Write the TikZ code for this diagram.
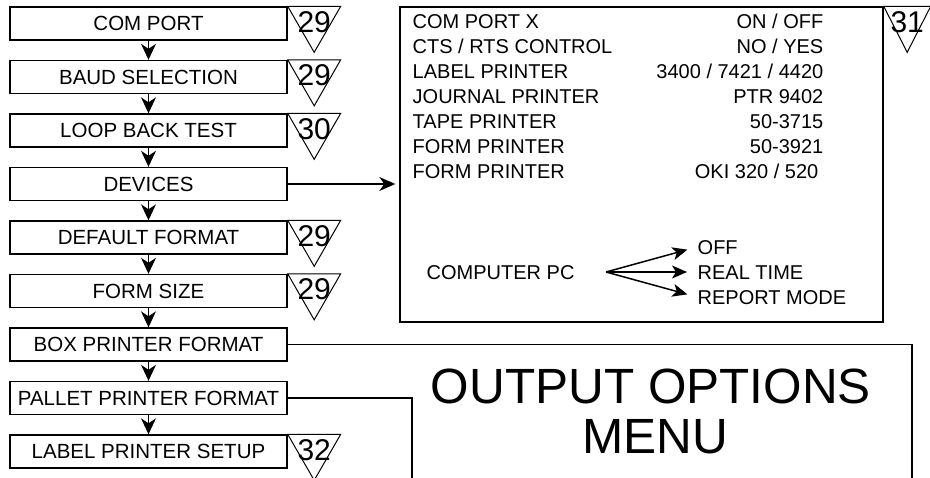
\documentclass[tikz,border=0pt]{standalone}
\usepackage{fontspec}
\setmainfont{Liberation Sans}
\usetikzlibrary{arrows.meta,calc}
\newcommand\reftri[4]{% #1 corner, #2 width, #3 number, #4 name
  \draw[tri] (#1) -- ++(#2,0) -- ++(-#2/2,46) -- cycle;
  \node[num] (#4) at ($(#1)+(#2/2,15)$) {#3};}
\begin{document}
\begin{tikzpicture}[x=1pt,y=-1pt,line width=1.4pt,
  menubox/.style={draw,minimum width=277pt,minimum height=33pt,inner sep=0pt,
    font=\fontsize{20.5}{24}\selectfont,text height=14.7pt,text depth=0pt},
  txt/.style={inner sep=0pt,font=\fontsize{20}{24}\selectfont,text height=14.3pt,text depth=0pt},
  num/.style={inner sep=0pt,font=\fontsize{30}{32}\selectfont,text height=21.5pt,text depth=0pt},
  big/.style={inner sep=0pt,font=\fontsize{49.5}{50}\selectfont},
  tri/.style={line width=1pt},
  downarr/.style={-{Stealth[length=16pt,width=15pt,inset=5pt]}},
  sidearr/.style={-{Stealth[length=16pt,width=14pt,inset=5pt]},shorten >=4pt},
  smallarr/.style={line width=1.5pt,-{Stealth[length=15pt,width=13pt,inset=4pt]},shorten >=10pt},
  bigbox/.style={draw,minimum width=483pt,minimum height=315pt,inner sep=0pt}]
\useasboundingbox (0,0) rectangle (930,478);

% left column
\node[menubox] (b1) at (148.5,23.5) {COM PORT};
\node[menubox] (b2) at (148.5,77) {BAUD SELECTION};
\node[menubox] (b3) at (148.5,130.5) {LOOP BACK TEST};
\node[menubox] (b4) at (148.5,184) {DEVICES};
\node[menubox] (b5) at (148.5,237.5) {DEFAULT FORMAT};
\node[menubox] (b6) at (148.5,291) {FORM SIZE};
\node[menubox] (b7) at (148.5,344.5) {BOX PRINTER FORMAT};
\node[menubox] (b8) at (148.5,398) {PALLET PRINTER FORMAT};
\node[menubox] (b9) at (148.5,451.5) {LABEL PRINTER SETUP};

\foreach \a/\b in {b1/b2,b2/b3,b3/b4,b4/b5,b5/b6,b6/b7,b7/b8,b8/b9}
  \draw[downarr] (\a.south) -- (\b.north);

\reftri{b1.north east}{53}{29}{t1}
\reftri{b2.north east}{53}{29}{t2}
\reftri{b3.north east}{53}{30}{t3}
\reftri{b5.north east}{53}{29}{t5}
\reftri{b6.north east}{53}{29}{t6}
\reftri{b9.north east}{53}{32}{t9}

% devices box
\node[bigbox] (dev) at (641.5,164.5) {};
\reftri{dev.north east}{47}{31}{t31}
\draw[sidearr] (b4.east) -- (b4.east -| dev.west);

\node[txt,anchor=west] (l1) at (412,21.5) {COM PORT X};
\node[txt,anchor=west] (l2) at (412,46.5) {CTS / RTS CONTROL};
\node[txt,anchor=west] (l3) at (412,71.5) {LABEL PRINTER};
\node[txt,anchor=west] (l4) at (412,96.5) {JOURNAL PRINTER};
\node[txt,anchor=west] (l5) at (412,121.5) {TAPE PRINTER};
\node[txt,anchor=west] (l6) at (412,146.5) {FORM PRINTER};
\node[txt,anchor=west] (l7) at (412,171.5) {FORM PRINTER};
\node[txt,anchor=east] (r1) at (824,21.5) {ON / OFF};
\node[txt,anchor=east] (r2) at (824,46.5) {NO / YES};
\node[txt,anchor=east] (r3) at (824,71.5) {3400 / 7421 / 4420};
\node[txt,anchor=east] (r4) at (824,96.5) {PTR 9402};
\node[txt,anchor=east] (r5) at (824,121.5) {50-3715};
\node[txt,anchor=east] (r6) at (824,146.5) {50-3921};
\node[txt,anchor=east] (r7) at (819,171.5) {OKI 320 / 520};

\node[txt,anchor=west] (pc) at (426,272) {COMPUTER PC};
\coordinate (fork) at (606,272);
\node[txt,anchor=west] (o1) at (697,247) {OFF};
\node[txt,anchor=west] (o2) at (697,272) {REAL TIME};
\node[txt,anchor=west] (o3) at (697,297) {REPORT MODE};
\draw[smallarr] (fork) -- (o1.west);
\draw[smallarr] (fork) -- (o2.west);
\draw[smallarr] (fork) -- (o3.west);

% output options
\coordinate (oc1) at (912,478);
\coordinate (oc2) at (412,478);
\draw (b7.east) -| (oc1);
\draw (b8.east) -| (oc2);
\node[big,anchor=base] (title1) at (651,404) {OUTPUT OPTIONS};
\node[big,anchor=base] (title2) at (655,454) {MENU};
\end{tikzpicture}
\end{document}
